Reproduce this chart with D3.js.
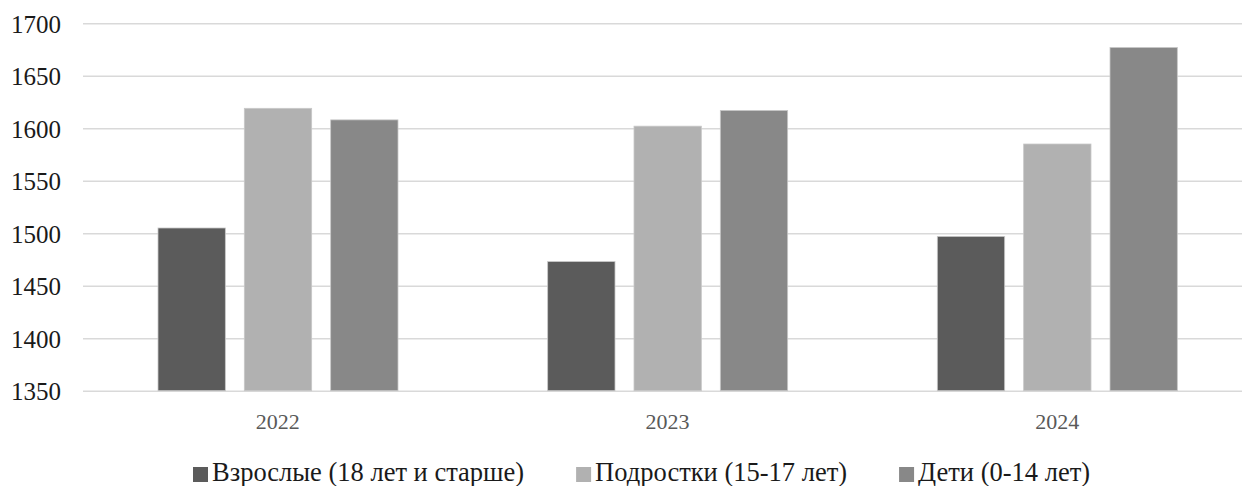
<!DOCTYPE html>
<html>
<head>
<meta charset="utf-8">
<script src="https://cdn.jsdelivr.net/npm/d3@7/dist/d3.min.js"></script>
<style>
  html, body { margin: 0; padding: 0; background: #ffffff; }
  svg { display: block; }
  svg text { font-family: "Liberation Serif", "Times New Roman", "DejaVu Serif", serif !important; }
</style>
</head>
<body>
<svg id="chart" width="1242" height="486" font-family="Liberation Serif, serif"></svg>
<script>
const years = ["2022", "2023", "2024"];
const seriesNames = ["Взрослые (18 лет и старше)", "Подростки (15-17 лет)", "Дети (0-14 лет)"];
const adults = [1505, 1473, 1497];
const teens = [1619, 1602, 1585];
const children = [1608, 1617, 1677];
const yTicks = [1350, 1400, 1450, 1500, 1550, 1600, 1650, 1700];
const colors = ["#5b5b5b", "#b1b1b1", "#888888"];

const seriesValues = [adults, teens, children];
const FONT = "'Liberation Serif', 'Times New Roman', serif";

const svg = d3.select("#chart");
const W = 1242, H = 486;
const plot = { left: 83, right: 1252, top: 23.3, bottom: 390.7 };

const y = d3.scaleLinear().domain([1350, 1700]).range([plot.bottom, plot.top]);
const x = d3.scaleBand().domain(years).range([plot.left, plot.right]).padding(0);
const xInner = d3.scaleBand().domain(seriesNames).range([75, 315]).paddingInner(0.22).paddingOuter(0);

// gridlines
const yAxis = d3.axisLeft(y).tickValues(yTicks).tickSize(-(W - plot.left)).tickFormat(d3.format("d"));
const gy = svg.append("g").attr("transform", `translate(${plot.left},0)`).call(yAxis);
gy.attr("font-family", null).attr("font-size", null);
gy.select(".domain").remove();
gy.selectAll(".tick line").attr("stroke", "#d9d9d9").attr("stroke-width", 1.6);
gy.selectAll(".tick text")
  .attr("x", -22)
  .attr("dy", "0.36em")
  .attr("fill", "#1a1a1a")
  .style("font-size", "25px")
  .style("font-family", FONT);

// bars
const groups = svg.append("g").selectAll("g")
  .data(years)
  .join("g")
  .attr("transform", d => `translate(${x(d)},0)`);

groups.selectAll("rect")
  .data((yr, i) => seriesNames.map((s, j) => ({ s, j, v: seriesValues[j][i] })))
  .join("rect")
  .attr("x", d => xInner(d.s))
  .attr("width", xInner.bandwidth())
  .attr("y", d => y(d.v))
  .attr("height", d => y(1350) - y(d.v))
  .attr("fill", d => colors[d.j])
  .attr("stroke", "#c8c8c8")
  .attr("stroke-width", 0.8);

// x axis labels
const xAxis = d3.axisBottom(x).tickSize(0).tickPadding(0);
const gx = svg.append("g").attr("transform", `translate(0,${plot.bottom})`).call(xAxis);
gx.attr("font-family", null).attr("font-size", null);
gx.select(".domain").remove();
gx.selectAll(".tick text")
  .attr("y", 38)
  .attr("dy", 0)
  .attr("fill", "#595959")
  .style("font-size", "22px")
  .style("font-family", FONT);

// legend
const legend = svg.append("g").attr("transform", "translate(193,0)");
let cx = 0;
seriesNames.forEach((name, j) => {
  const g = legend.append("g").attr("transform", `translate(${cx},0)`);
  g.append("rect").attr("x", 0).attr("y", 467).attr("width", 15).attr("height", 15).attr("fill", colors[j]);
  const t = g.append("text").attr("x", 19).attr("y", 481)
    .attr("fill", "#1a1a1a")
    .style("font-size", "26.5px")
    .style("font-family", FONT)
    .text(name);
  const w = t.node().getComputedTextLength();
  cx += 19 + w + 52;
});
</script>
</body>
</html>
